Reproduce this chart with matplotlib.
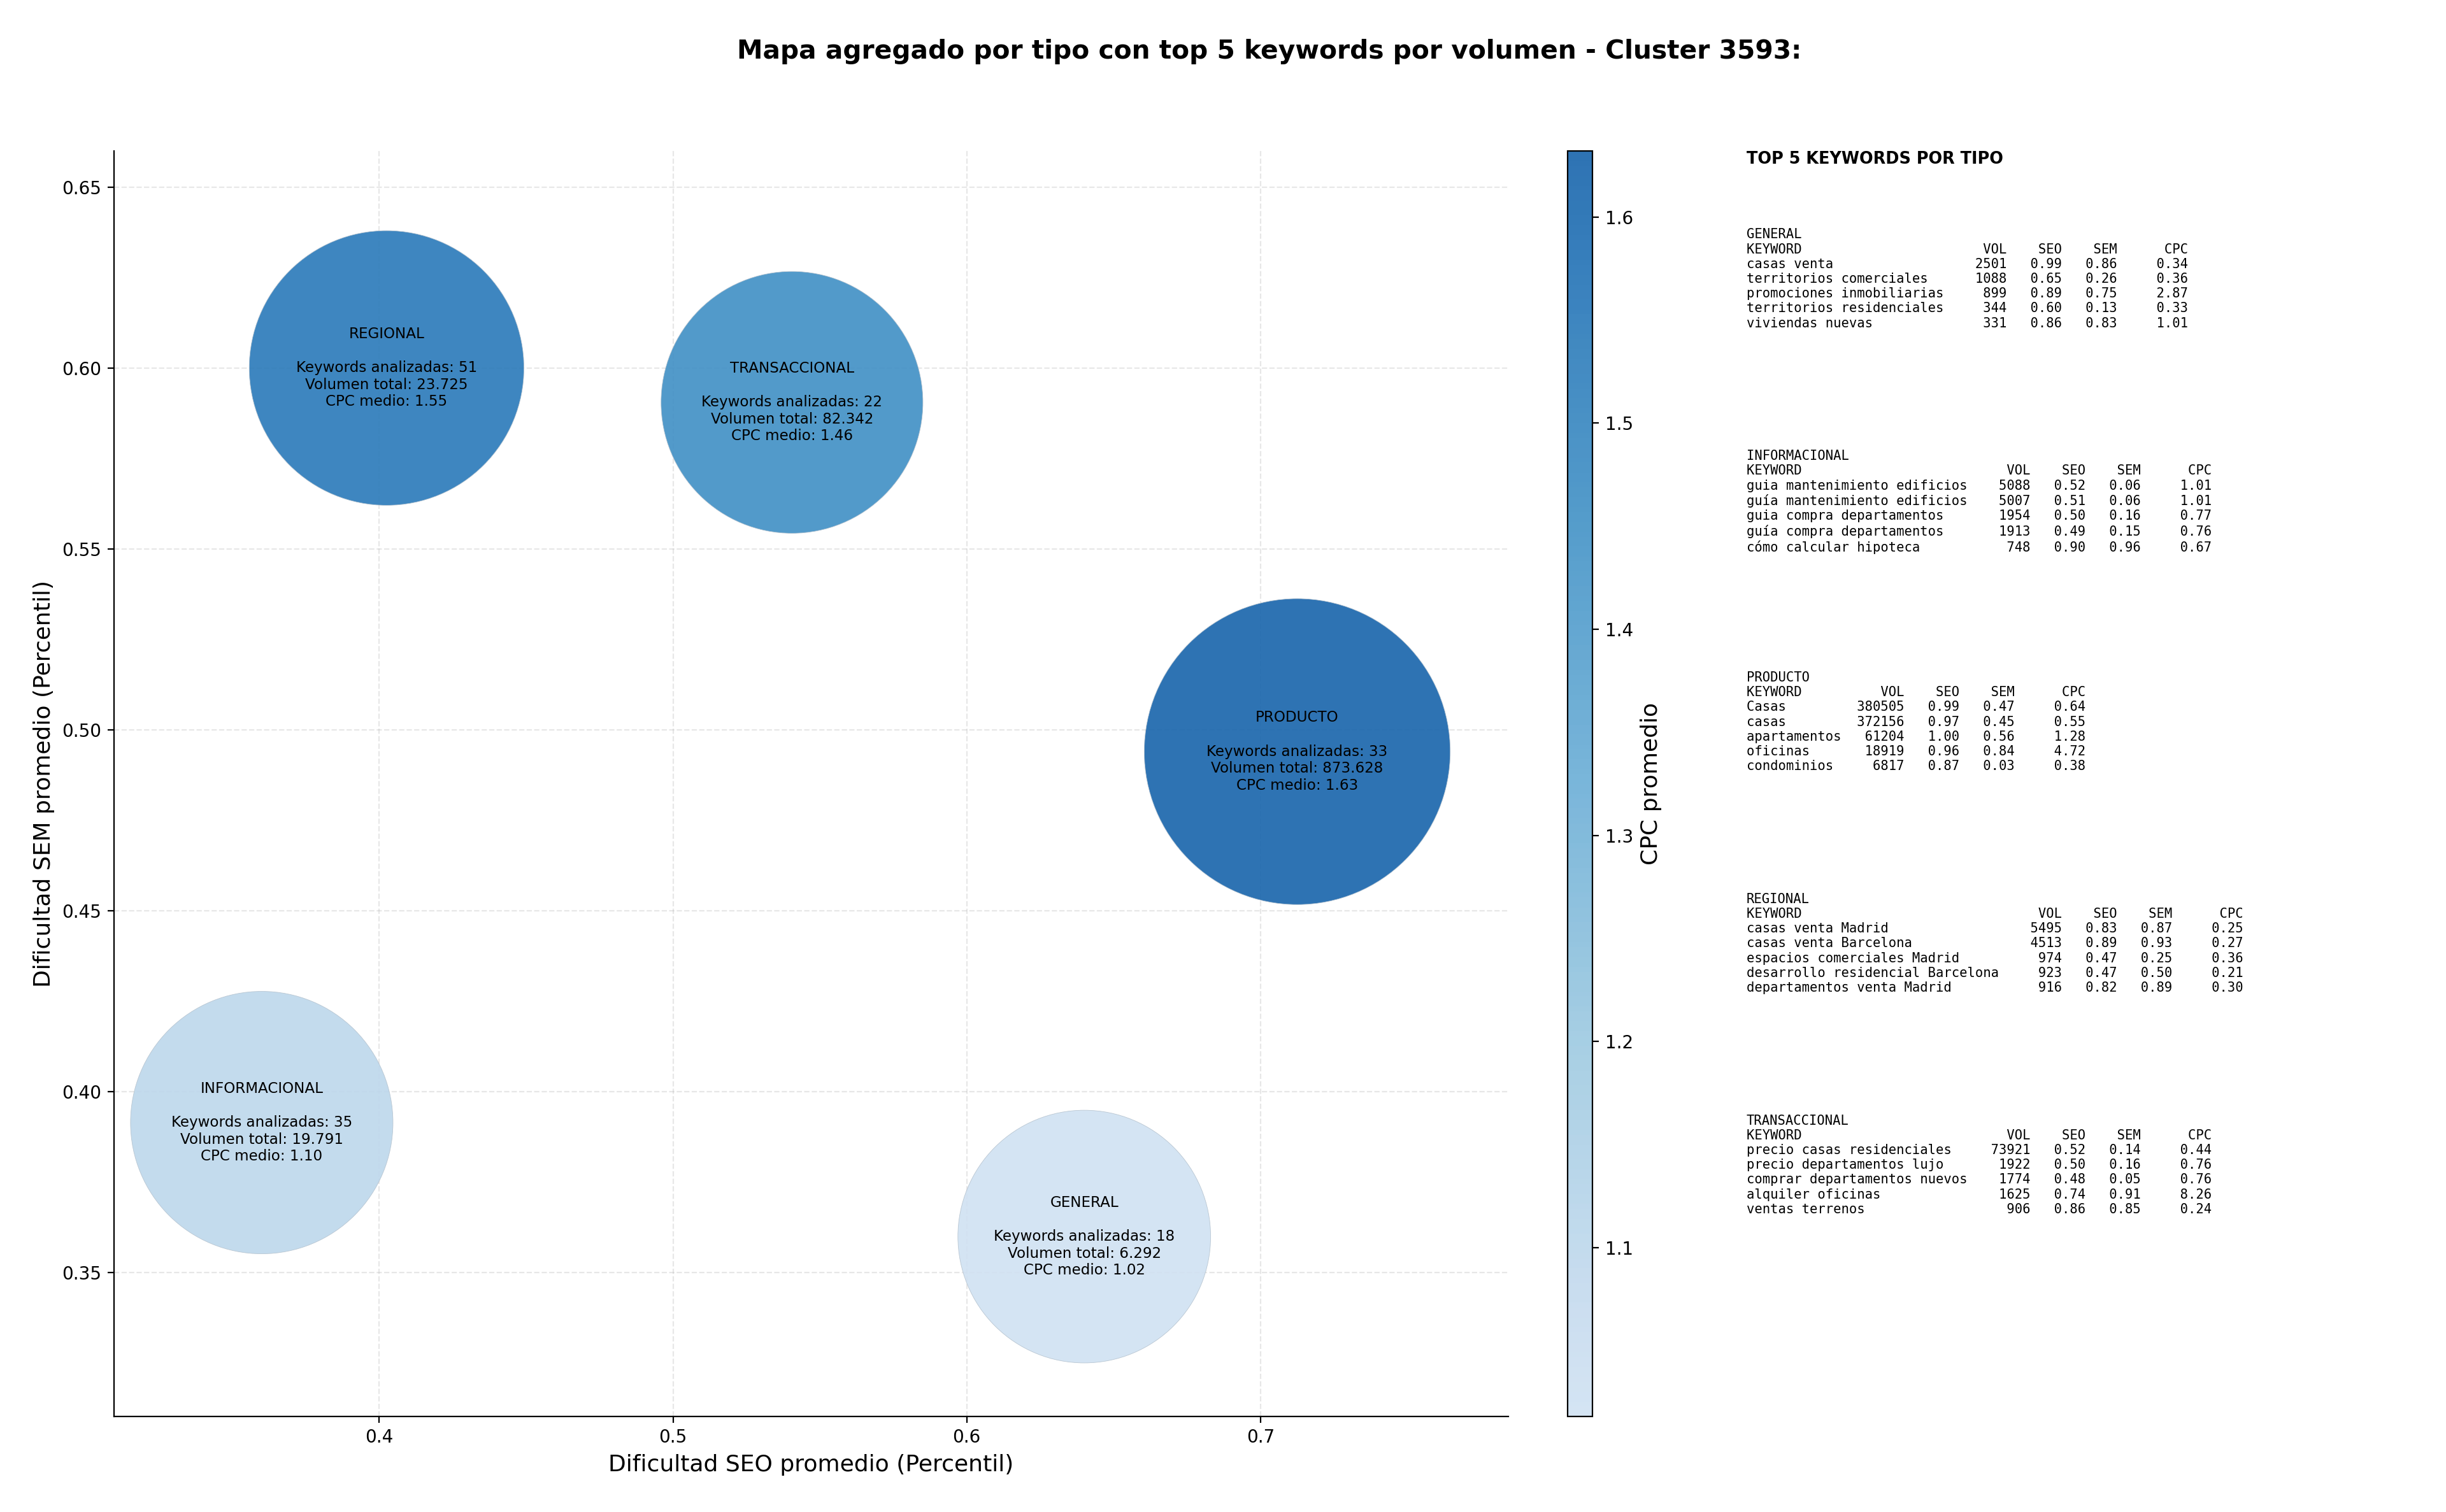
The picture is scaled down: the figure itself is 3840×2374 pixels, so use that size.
import numpy as np
import matplotlib
matplotlib.use('Agg')
import matplotlib.pyplot as plt
from matplotlib.colors import LinearSegmentedColormap, Normalize

# aggregated values per type
tipos = ['GENERAL', 'INFORMACIONAL', 'PRODUCTO', 'REGIONAL', 'TRANSACCIONAL']
seo_medio = [0.640, 0.360, 0.7125, 0.4025, 0.5405]
sem_medio = [0.360, 0.3915, 0.494, 0.600, 0.5905]
cpc_medio = [1.018, 1.10, 1.632, 1.55, 1.46]
n_keywords = [18, 35, 33, 51, 22]
volumen_total = [6292, 19791, 873628, 23725, 82342]
bubble_area = [20400, 22000, 29900, 24100, 21900]

# top 5 keywords per type: keyword, vol, seo, sem, cpc
top_kw = {
    'GENERAL': [
        ('casas venta', 2501, 0.99, 0.86, 0.34),
        ('territorios comerciales', 1088, 0.65, 0.26, 0.36),
        ('promociones inmobiliarias', 899, 0.89, 0.75, 2.87),
        ('territorios residenciales', 344, 0.60, 0.13, 0.33),
        ('viviendas nuevas', 331, 0.86, 0.83, 1.01),
    ],
    'INFORMACIONAL': [
        ('guia mantenimiento edificios', 5088, 0.52, 0.06, 1.01),
        ('guía mantenimiento edificios', 5007, 0.51, 0.06, 1.01),
        ('guia compra departamentos', 1954, 0.50, 0.16, 0.77),
        ('guía compra departamentos', 1913, 0.49, 0.15, 0.76),
        ('cómo calcular hipoteca', 748, 0.90, 0.96, 0.67),
    ],
    'PRODUCTO': [
        ('Casas', 380505, 0.99, 0.47, 0.64),
        ('casas', 372156, 0.97, 0.45, 0.55),
        ('apartamentos', 61204, 1.00, 0.56, 1.28),
        ('oficinas', 18919, 0.96, 0.84, 4.72),
        ('condominios', 6817, 0.87, 0.03, 0.38),
    ],
    'REGIONAL': [
        ('casas venta Madrid', 5495, 0.83, 0.87, 0.25),
        ('casas venta Barcelona', 4513, 0.89, 0.93, 0.27),
        ('espacios comerciales Madrid', 974, 0.47, 0.25, 0.36),
        ('desarrollo residencial Barcelona', 923, 0.47, 0.50, 0.21),
        ('departamentos venta Madrid', 916, 0.82, 0.89, 0.30),
    ],
    'TRANSACCIONAL': [
        ('precio casas residenciales', 73921, 0.52, 0.14, 0.44),
        ('precio departamentos lujo', 1922, 0.50, 0.16, 0.76),
        ('comprar departamentos nuevos', 1774, 0.48, 0.05, 0.76),
        ('alquiler oficinas', 1625, 0.74, 0.91, 8.26),
        ('ventas terrenos', 906, 0.86, 0.85, 0.24),
    ],
}

# truncated Blues
cmap = LinearSegmentedColormap.from_list('blues_trunc', plt.cm.Blues(np.linspace(0.2, 0.8, 256)))
norm = Normalize(vmin=min(cpc_medio), vmax=max(cpc_medio))

fig = plt.figure(figsize=(19.2, 11.87), dpi=200)
ax = fig.add_axes([0.0466, 0.0632, 0.5701, 0.8368])
cax = fig.add_axes([0.6409, 0.0632, 0.0102, 0.8368])

sc = ax.scatter(seo_medio, sem_medio, s=bubble_area, c=cpc_medio, cmap=cmap, norm=norm,
                alpha=0.9, edgecolors='#b4c2ce', linewidths=0.3, zorder=3)

for i, t in enumerate(tipos):
    vol_txt = f"{volumen_total[i]:,}".replace(',', '.')
    label = f"{t}\n\nKeywords analizadas: {n_keywords[i]}\nVolumen total: {vol_txt}\nCPC medio: {cpc_medio[i]:.2f}"
    ax.text(seo_medio[i], sem_medio[i], label, ha='center', va='center',
            multialignment='center', fontsize=8.3, zorder=4)

ax.set_xlim(0.3097, 0.7844)
ax.set_ylim(0.3103, 0.6599)
ax.set_xticks([0.4, 0.5, 0.6, 0.7])
ax.set_yticks([0.35, 0.40, 0.45, 0.50, 0.55, 0.60, 0.65])
ax.grid(True, linestyle='--', alpha=0.3)
ax.set_axisbelow(True)
ax.spines['top'].set_visible(False)
ax.spines['right'].set_visible(False)
ax.set_xlabel('Dificultad SEO promedio (Percentil)', fontsize=13)
ax.set_ylabel('Dificultad SEM promedio (Percentil)', fontsize=13)

cb = fig.colorbar(sc, cax=cax)
cb.set_label('CPC promedio', fontsize=13)

fig.text(0.519, 0.966, 'Mapa agregado por tipo con top 5 keywords por volumen - Cluster 3593:',
         ha='center', va='center', fontsize=14.7, fontweight='bold')

# keyword tables on the right
x_txt = 0.714
fig.text(x_txt, 0.900, 'TOP 5 KEYWORDS POR TIPO', ha='left', va='top',
         fontsize=9.2, fontweight='bold')

y0 = 0.849
dy = 0.1465
for i, t in enumerate(tipos):
    rows = top_kw[t]
    L = max(len(r[0]) for r in rows)
    lines = [t, f"{'KEYWORD':<{L}}{'VOL':>8}{'SEO':>7}{'SEM':>7}{'CPC':>9}"]
    for kw, vol, seo, sem, cpc in rows:
        lines.append(f"{kw:<{L}}{vol:>8}{seo:>7.2f}{sem:>7.2f}{cpc:>9.2f}")
    fig.text(x_txt, y0 - i * dy, '\n'.join(lines), ha='left', va='top',
             family='DejaVu Sans Mono', fontsize=7.4)

fig.savefig('out.png', dpi=200)
